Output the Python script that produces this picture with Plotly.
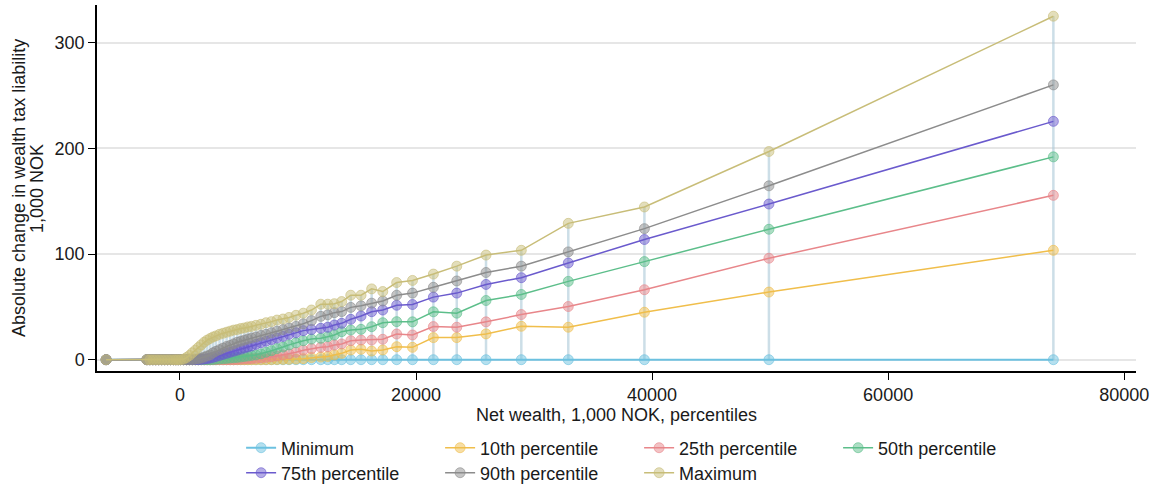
import plotly.graph_objects as go

# net wealth percentiles (1,000 NOK)
net_wealth = [-6260, -2800, -2550, -2300, -2050, -1800, -1550, -1300, -1050, -800, -550, -350, -150,
              50, 300, 550, 800, 1050, 1300, 1550, 1800, 2050, 2300,
              2550, 2800, 3050, 3350, 3650, 3950, 4250, 4550, 4850, 5150,
              5450, 5750, 6060, 6440, 6860, 7290, 7750, 8220, 8730, 9240,
              9830, 10450, 11140, 11930, 12520, 13080, 13700, 14470, 15340, 16240,
              17180, 18360, 19700, 21470, 23450, 25930, 28920, 32900, 39350, 49900,
              74000]

neg_zeros = [0] * 13

minimum = [0] * 64

p10 = neg_zeros + [0, 0, 0, 0, 0, 0, 0, 0, 0, 0,
                   0, 0, 0, 0, 0, 0, 0, 0, 0, 0,
                   0, 0, 0, 0, 0, 0, 0.1, 0.2, 0.3, 0.4,
                   0.6, 1, 2, 2.5, 3, 4.5, 6, 9.2, 9.8, 8.2,
                   9.2, 12.3, 11.7, 20.9, 20.9, 24.4, 31.6, 30.7, 44.9, 64,
                   103.5]

p25 = neg_zeros + [0, 0, 0, 0, 0, 0, 0, 0, 0, 0,
                   0, 0, 0, 0, 0, 0, 0, 0, 0.2, 0.4,
                   0.6, 0.8, 1, 1.3, 1.7, 2.2, 2.8, 3.5, 4.5, 5.5,
                   7, 9, 10.5, 11.7, 12.3, 13.9, 14.9, 18, 18.6, 18.6,
                   19.3, 24.3, 23.4, 31.3, 30.7, 35.8, 42.7, 50.3, 66.2, 96,
                   155.5]

p50 = neg_zeros + [0, 0, 0, 0, 0, 0, 0, 0, 0, 0,
                   0, 0.2, 0.4, 0.6, 0.9, 1.2, 1.5, 1.8, 2.1, 2.5,
                   3, 3.5, 4, 4.5, 5.5, 7, 8.5, 10.5, 12, 14,
                   16, 18, 19.5, 20.2, 21.8, 23.4, 26.5, 28.1, 28.7, 31.2,
                   35, 36, 35.8, 45.3, 44, 56, 61.7, 74.1, 92.8, 123.4,
                   191.9]

p75 = neg_zeros + [0, 0, 0, 0, 0, 0, 0, 0.3, 0.6, 1,
                   1.5, 2.2, 3, 4, 5, 6, 7, 8, 9, 10,
                   11, 12, 13, 14.5, 16, 17.5, 19, 20.5, 22, 24,
                   25.5, 27.5, 28.5, 29.7, 30.7, 32.8, 34.4, 38.2, 41.3, 45.4,
                   47, 51.5, 52.2, 59.2, 63, 71.2, 77.6, 91.5, 113.7, 147.3,
                   225.5]

p90 = neg_zeros + [0, 0, 0, 0, 0, 0.5, 1, 1.5, 2.5, 3.5,
                   4.5, 6.5, 8, 9.5, 11, 12.5, 13.5, 15, 16.5, 17.5,
                   18.5, 19.5, 20.5, 21.5, 23, 24, 25.5, 27, 28.5, 30,
                   31.5, 34, 37, 41, 42.5, 44.5, 45.5, 49.5, 51, 53.5,
                   55.5, 61, 63, 68.5, 74.5, 82.5, 88.5, 102, 124, 164.5,
                   260]

maximum = neg_zeros + [0, 0.5, 2, 4, 6.5, 9, 11.5, 14, 16.5, 18.5,
                       20, 21.5, 22.5, 24, 25, 26, 27, 28, 28.5, 29.5,
                       30, 31, 31.5, 32.5, 33.5, 35, 36, 37.5, 38.5, 40,
                       42, 44, 47, 52.5, 52.5, 53, 55, 61, 61, 67,
                       64.5, 73, 75, 81, 88.5, 99, 103.5, 129, 144.5, 197,
                       325]

series_names = ["Minimum", "10th percentile", "25th percentile", "50th percentile",
                "75th percentile", "90th percentile", "Maximum"]
series_values = [minimum, p10, p25, p50, p75, p90, maximum]
series_colors = [(108, 193, 224), (240, 190, 75), (232, 134, 138), (92, 190, 138),
                 (106, 90, 205), (140, 140, 140), (200, 189, 120)]
legend_rows = ["legend", "legend", "legend", "legend", "legend2", "legend2", "legend2"]

y_title_lines = ["Absolute change in wealth tax liability", "1,000 NOK"]

font_family = "Liberation Sans, Arial, sans-serif"

fig = go.Figure()

# spikes from minimum to maximum at each percentile
spike_x = []
spike_y = []
for x, lo, hi in zip(net_wealth, minimum, maximum):
    spike_x += [x, x, None]
    spike_y += [lo, hi, None]
fig.add_trace(go.Scatter(
    x=spike_x,
    y=spike_y,
    mode='lines',
    line=dict(color='rgba(170, 200, 215, 0.6)', width=2.5),
    showlegend=False,
    hoverinfo='skip'
))

for name, values, (r, g, b), leg in zip(series_names, series_values, series_colors, legend_rows):
    fig.add_trace(go.Scatter(
        x=net_wealth,
        y=values,
        mode='lines+markers',
        name=name,
        legend=leg,
        line=dict(color=f'rgb({r},{g},{b})', width=2 if name == "Minimum" else 1.5),
        marker=dict(size=10, color=f'rgba({r},{g},{b},0.5)',
                    line=dict(color=f'rgba({r},{g},{b},0.6)', width=1))
    ))

# two-line y title, set as rotated annotations to get the tight line spacing
for line_text, x_pos in zip(y_title_lines, [-0.0751, -0.0578]):
    fig.add_annotation(
        text=line_text,
        xref='paper', yref='paper',
        x=x_pos, y=0.5,
        xanchor='center', yanchor='middle',
        textangle=-90,
        showarrow=False,
        font=dict(family=font_family, size=18, color='#1a1a1a'),
    )

legend_style = dict(
    orientation='h',
    xanchor='left',
    yanchor='middle',
    x=0.1387,
    entrywidth=154,
    font=dict(family=font_family, size=18, color='#1a1a1a'),
    bgcolor='rgba(0,0,0,0)',
    tracegroupgap=0,
)

fig.update_layout(
    width=1156,
    height=488,
    margin=dict(l=97, r=20, t=5, b=117, autoexpand=False),
    plot_bgcolor='white',
    paper_bgcolor='white',
    font=dict(family=font_family, size=18, color='#1a1a1a'),
    legend=dict(legend_style, y=-0.2104),
    legend2=dict(legend_style, y=-0.2787),
    xaxis=dict(
        range=[-7030, 81000],
        tickvals=[0, 20000, 40000, 60000, 80000],
        ticktext=["0", "20000", "40000", "60000", "80000"],
        showgrid=False,
        zeroline=False,
        showline=True,
        linecolor='black',
        linewidth=1.5,
        ticks='outside',
        ticklen=7,
        tickcolor='black',
        automargin=False,
        title=dict(text="Net wealth, 1,000 NOK, percentiles", standoff=0,
                   font=dict(family=font_family, size=18)),
    ),
    yaxis=dict(
        range=[-10.7, 335.6],
        tickvals=[0, 100, 200, 300],
        showgrid=True,
        gridcolor='#e6e6e6',
        gridwidth=1.5,
        zeroline=False,
        showline=True,
        linecolor='black',
        linewidth=1.5,
        ticks='outside',
        ticklen=7,
        tickcolor='black',
        automargin=False,
    ),
)

# drop the default page margin so the figure sits at the window's top-left corner
fig.write_html("out.html", config={'displayModeBar': False},
               post_script="document.body.style.margin = '0';")
